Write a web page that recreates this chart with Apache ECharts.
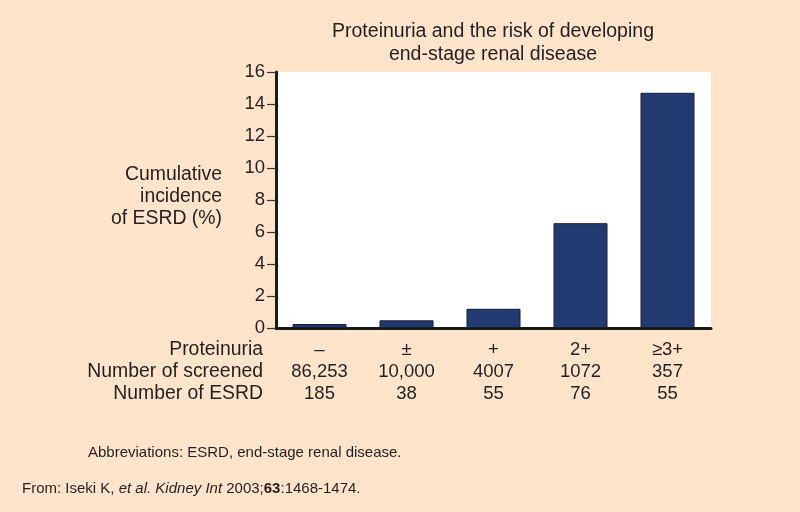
<!DOCTYPE html>
<html><head><meta charset="utf-8">
<script src="https://cdn.jsdelivr.net/npm/echarts@6/dist/echarts.min.js"></script>
<style>html,body{margin:0;padding:0;background:#fde4ca}#c{width:800px;height:512px}</style>
</head><body><div id="c"></div>
<script>
const proteinuria = ['–', '±', '+', '2+', '≥3+'];
const screened = ['86,253', '10,000', '4007', '1072', '357'];
const esrd = ['185', '38', '55', '76', '55'];
const incidence = [0.25, 0.48, 1.2, 6.55, 14.7];
const yTicks = { min: 0, max: 16, interval: 2 };
const rowHeaders = ['Proteinuria', 'Number of screened', 'Number of ESRD'];

const font = '"Liberation Sans", Arial, Helvetica, sans-serif';
const txt = '#231f20';
const chart = echarts.init(document.getElementById('c'));
chart.setOption({
  backgroundColor: '#fde4ca',
  animation: false,
  textStyle: { fontFamily: font },
  grid: { left: 276, right: 89, top: 72, bottom: 184, show: true, backgroundColor: '#ffffff', borderWidth: 0 },
  xAxis: {
    type: 'category', data: proteinuria,
    axisLine: { lineStyle: { color: '#1a1a1a', width: 3 } },
    axisTick: { show: false },
    axisLabel: {
      margin: 11, interval: 0, color: txt, fontSize: 18.5, lineHeight: 22, fontFamily: font,
      formatter: (v, i) => v + '\n' + screened[i] + '\n' + esrd[i]
    }
  },
  yAxis: {
    type: 'value', min: yTicks.min, max: yTicks.max, interval: yTicks.interval,
    axisLine: { show: true, lineStyle: { color: '#1a1a1a', width: 3 } },
    axisTick: { show: true, length: 9, lineStyle: { color: '#333', width: 1.2 } },
    splitLine: { show: false },
    axisLabel: { margin: 11, color: txt, fontSize: 18.5, fontFamily: font }
  },
  series: [{
    type: 'bar', data: incidence, barWidth: 54,
    itemStyle: { color: '#213a70', borderColor: '#141c38', borderWidth: 1 }
  }],
  graphic: [
    { type: 'text', x: 493, y: 20, style: { text: 'Proteinuria and the risk of developing\nend-stage renal disease', align: 'center', fontSize: 19.5, lineHeight: 23, fill: txt, fontFamily: font } },
    { type: 'text', x: 222, y: 164, style: { text: 'Cumulative\nincidence\nof ESRD (%)', align: 'right', fontSize: 19.4, lineHeight: 22, fill: txt, fontFamily: font } },
    { type: 'text', x: 263, y: 339, style: { text: rowHeaders.join('\n'), align: 'right', fontSize: 19.4, lineHeight: 22, fill: txt, fontFamily: font } },
    { type: 'text', x: 88, y: 445, style: { text: 'Abbreviations: ESRD, end-stage renal disease.', fontSize: 15, fill: txt, fontFamily: font } },
    { type: 'text', x: 22, y: 481, style: {
      text: '{n|From: Iseki K, }{i|et al. Kidney Int}{n| 2003;}{b|63}{n|:1468-1474.}',
      rich: {
        n: { fontSize: 15, fill: txt, fontFamily: font },
        i: { fontSize: 15, fill: txt, fontStyle: 'italic', fontFamily: font },
        b: { fontSize: 15, fill: txt, fontWeight: 'bold', fontFamily: font }
      } } }
  ]
});
</script></body></html>
